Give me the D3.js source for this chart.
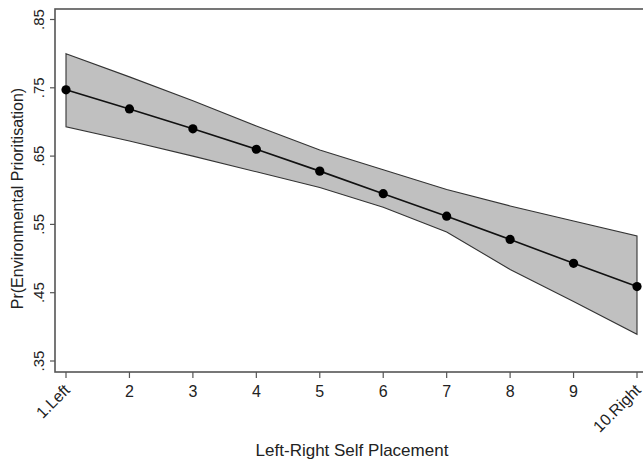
<script src="https://d3js.org/d3.v7.min.js"></script>
<style>
    body { margin: 0; background: #fff; }
    text { font-family: "Liberation Sans", Arial, sans-serif; fill: #222; }
</style>
<div id="canvas"></div>
<script>
    const width = 643;
    const height = 462;

    // Data
    const positions = [1, 2, 3, 4, 5, 6, 7, 8, 9, 10];
    const tickLabels = ["1.Left", "2", "3", "4", "5", "6", "7", "8", "9", "10.Right"];
    const prob = [0.747, 0.719, 0.690, 0.660, 0.628, 0.595, 0.562, 0.528, 0.493, 0.459];
    const upper = [0.800, 0.766, 0.731, 0.694, 0.659, 0.630, 0.601, 0.577, 0.555, 0.533];
    const lower = [0.693, 0.672, 0.650, 0.627, 0.604, 0.575, 0.539, 0.484, 0.437, 0.389];
    const yTicks = [0.35, 0.45, 0.55, 0.65, 0.75, 0.85];

    // plot region; the right edge of the frame is cut off by the picture
    const plot = {left: 55, top: 9, right: 650, bottom: 372};

    const x = d3.scaleLinear()
        .domain([1, 10])
        .range([66, 637]);

    const y = d3.scaleLinear()
        .domain([0.35, 0.85])
        .range([361, 19.5]);

    const svg = d3.select("#canvas")
        .append("svg")
        .attr("width", width)
        .attr("height", height);

    const rows = positions.map((p, i) => ({p, m: prob[i], lo: lower[i], hi: upper[i]}));

    // Confidence band
    svg.append("path")
        .datum(rows)
        .attr("d", d3.area()
            .x(d => x(d.p))
            .y0(d => y(d.lo))
            .y1(d => y(d.hi)))
        .attr("fill", "#c0c0c0")
        .attr("stroke", "#333")
        .attr("stroke-width", 1.1);

    // Prediction line and points
    svg.append("path")
        .datum(rows)
        .attr("d", d3.line().x(d => x(d.p)).y(d => y(d.m)))
        .attr("fill", "none")
        .attr("stroke", "#111")
        .attr("stroke-width", 1.6);

    svg.selectAll("circle")
        .data(rows)
        .enter()
        .append("circle")
        .attr("cx", d => x(d.p))
        .attr("cy", d => y(d.m))
        .attr("r", 4.6)
        .attr("fill", "#000");

    // Frame
    svg.append("rect")
        .attr("x", plot.left)
        .attr("y", plot.top)
        .attr("width", plot.right - plot.left)
        .attr("height", plot.bottom - plot.top)
        .attr("fill", "none")
        .attr("stroke", "#555")
        .attr("stroke-width", 1.6);

    // Y axis
    const yAxis = svg.append("g");
    yAxis.selectAll("line")
        .data(yTicks)
        .enter()
        .append("line")
        .attr("x1", 50)
        .attr("x2", plot.left)
        .attr("y1", d => y(d))
        .attr("y2", d => y(d))
        .attr("stroke", "#555")
        .attr("stroke-width", 1.2);
    yAxis.selectAll("text")
        .data(yTicks)
        .enter()
        .append("text")
        .attr("transform", d => `translate(43.5,${y(d)}) rotate(-90)`)
        .attr("text-anchor", "middle")
        .attr("font-size", 15)
        .text(d => d3.format(".2f")(d).replace(/^0/, ""));

    svg.append("text")
        .attr("transform", `translate(23,${(plot.top + plot.bottom) / 2 + 8}) rotate(-90)`)
        .attr("text-anchor", "middle")
        .attr("font-size", 16)
        .text("Pr(Environmental Prioritisation)");

    // X axis
    const xAxis = svg.append("g");
    xAxis.selectAll("line")
        .data(positions)
        .enter()
        .append("line")
        .attr("x1", d => x(d))
        .attr("x2", d => x(d))
        .attr("y1", plot.bottom)
        .attr("y2", plot.bottom + 6)
        .attr("stroke", "#555")
        .attr("stroke-width", 1.2);
    xAxis.selectAll("text")
        .data(positions)
        .enter()
        .append("text")
        .attr("transform", (d, i) => (i === 0 || i === positions.length - 1)
            ? `translate(${x(d) + 5},${391}) rotate(-45)`
            : `translate(${x(d)},${397})`)
        .attr("text-anchor", (d, i) => (i === 0 || i === positions.length - 1) ? "end" : "middle")
        .attr("font-size", 16)
        .text((d, i) => tickLabels[i]);

    svg.append("text")
        .attr("x", 352)
        .attr("y", 456)
        .attr("text-anchor", "middle")
        .attr("font-size", 17)
        .text("Left-Right Self Placement");
</script>
